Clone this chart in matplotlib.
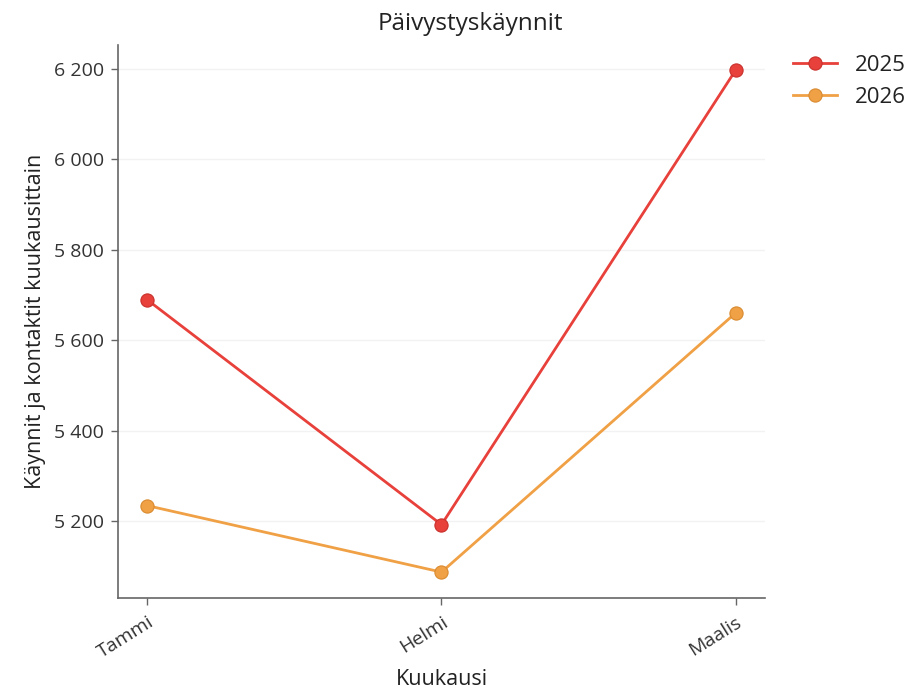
import matplotlib
matplotlib.use("Agg")
import matplotlib.pyplot as plt
from matplotlib.ticker import FuncFormatter

plt.rcParams['font.family'] = ['Open Sans', 'DejaVu Sans']

# data
months = ['Tammi', 'Helmi', 'Maalis']
visits_2025 = [5689, 5192, 6197]
visits_2026 = [5234, 5087, 5660]
yticks = [5200, 5400, 5600, 5800, 6000, 6200]

red = '#e8403a'
orange = '#f0a045'

fig = plt.figure(figsize=(9.15, 6.92), dpi=100)
ax = fig.add_axes([0.129, 0.136, 0.707, 0.799])

x = list(range(len(months)))
ax.plot(x, visits_2025, color=red, lw=2, marker='o', ms=9.5,
        mec='#c9302c', mew=0.8, label='2025', zorder=3)
ax.plot(x, visits_2026, color=orange, lw=2, marker='o', ms=9.5,
        mec='#d98a30', mew=0.8, label='2026', zorder=3)

ax.set_xlim(-0.1, 2.1)
ax.set_ylim(5030, 6253)
ax.set_yticks(yticks)
ax.yaxis.set_major_formatter(FuncFormatter(lambda v, p: f'{int(v):,}'.replace(',', ' ')))
ax.set_xticks(x)
ax.set_xticklabels(months, rotation=32, ha='right', rotation_mode='anchor')

ax.grid(axis='y', color='#f2f2f2', lw=1)
ax.set_axisbelow(True)
for s in ['top', 'right']:
    ax.spines[s].set_visible(False)
for s in ['left', 'bottom']:
    ax.spines[s].set_color('#666666')
    ax.spines[s].set_linewidth(1.2)
ax.tick_params(colors='#333333', labelsize=14, length=5, width=1, direction='out')
ax.tick_params(axis='y', pad=5)
ax.tick_params(axis='x', pad=6)
ax.tick_params(color='#666666')

# title sits a bit right of the axes centre in the reference
fig.text(0.514, 0.965, 'Päivystyskäynnit', fontsize=17.5, color='#222222',
         ha='center', va='center')
ax.set_xlabel('Kuukausi', fontsize=15.5, color='#222222', labelpad=5)
ax.set_ylabel('Käynnit ja kontaktit kuukausittain', fontsize=15.5, color='#222222', labelpad=6)

leg = ax.legend(loc='upper left', bbox_to_anchor=(1.012, 1.018), frameon=False,
                fontsize=16, handlelength=2.0, labelspacing=0.5, labelcolor='#222222')

fig.savefig('out.png', dpi=100, facecolor='white')
